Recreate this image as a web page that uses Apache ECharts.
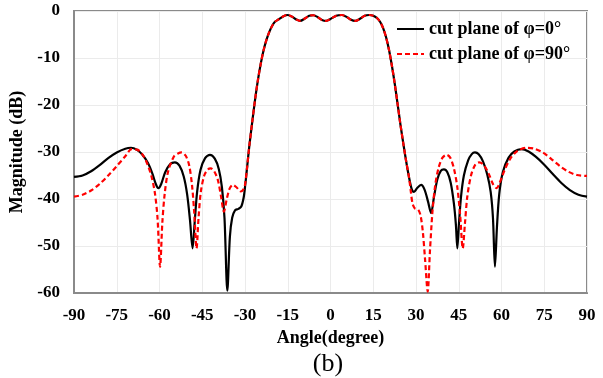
<!DOCTYPE html>
<html>
<head>
<meta charset="utf-8">
<script src="https://cdn.jsdelivr.net/npm/echarts@6/dist/echarts.min.js"></script>
<style>
  html, body { margin: 0; padding: 0; background: #fff; }
  #main { width: 603px; height: 378px; }
</style>
</head>
<body>
<div id="main"></div>
<script>
// 数据：角度 (degree) 与幅度 (dB)
var angle0 = [-90, -87, -84, -81, -78, -75, -72, -70, -68, -66, -64, -62.5, -61.3, -60.4, -59.4, -58, -56.3, -54.6, -53, -51.5,
  -50.3, -49.3, -48.4, -47.6, -46.8, -45.6, -44, -42.3, -40.6, -39.2, -38.1, -37.2, -36.2, -35.3, -34.5, -33.5, -32.3, -31.3, -30.5, -30,
  -29.3, -28.5, -27.5, -26.5, -25.5, -24.5, -23.5, -22.5, -21.5, -20.5, -19.5, -18, -16.5, -15, -13.5, -12, -10.7, -9, -7.5, -6,
  -4.5, -3, -1.5, 0, 2, 4, 5.5, 7, 8.7, 10.2, 12, 13.6, 15, 16.3, 17.5, 18.5, 19.5, 20.5, 21.5, 22.5,
  23.5, 24.5, 25.5, 26.5, 27.5, 28.5, 29.3, 30.5, 31.8, 33, 34.2, 35.3, 36.3, 37.5, 38.7, 39.8, 41, 42.2, 43.3, 44,
  44.5, 45.1, 45.8, 46.8, 48.3, 49.5, 50.7, 52, 53.5, 55, 56.2, 57, 57.7, 58.4, 59.2, 60.5, 62.5, 64.5, 67, 69.5,
  72, 75, 78, 81, 84, 87, 90];
var mag0 = [-35.3, -35.0, -34.1, -32.8, -31.3, -30.1, -29.3, -29.1, -29.5, -30.6, -32.4, -34.6, -36.8, -37.7, -36.8, -34.3, -32.6, -32.2, -32.9, -35.2,
  -39, -44.5, -50.5, -44.5, -38.5, -33.8, -31.3, -30.6, -31.4, -33.6, -37.5, -44, -59.5, -48, -44, -42.4, -42.1, -41.6, -39.8, -37.5,
  -33.5, -28.8, -23.8, -19, -14.8, -11.3, -8.4, -6.2, -4.5, -3.2, -2.3, -1.7, -1.1, -0.85, -1.2, -1.8, -2.1, -1.6, -1.0, -0.9,
  -1.3, -1.9, -2.1, -1.7, -1.0, -0.85, -1.2, -1.8, -2.1, -1.7, -1.0, -0.85, -1.0, -1.5, -2.4, -3.7, -5.6, -8.2, -11.5, -15.3,
  -19.6, -24, -28, -31.8, -35.2, -37.9, -38.5, -37.6, -37.0, -38, -40.5, -43.0, -39.6, -35.8, -34, -33.7, -34.3, -36.6, -41, -45.5,
  -50.5, -45, -39.5, -35, -31.8, -30.5, -30.1, -30.5, -32, -34.8, -38.5, -44, -54.4, -46, -39, -34.2, -31.2, -29.9, -29.4, -29.9,
  -31.0, -32.7, -34.7, -36.6, -38.1, -39.1, -39.5];

var angle90 = [-90, -87, -84, -81, -78, -75, -72, -69.8, -67.8, -66, -64.3, -62.8, -61.6, -60.7, -59.8, -59, -58.2, -57, -55, -53.5,
  -52.2, -50.8, -49.6, -48.6, -47.8, -47, -46.3, -45.5, -44.3, -43, -42, -40.8, -39.5, -38.4, -37.4, -36.4, -35.4, -34.3, -33, -31.5,
  -30.6, -30, -29.3, -28.5, -27.5, -26.5, -25.5, -24.5, -23.5, -22.5, -21.5, -20.5, -19.5, -18, -16.5, -15, -13.5, -12, -10.7, -9,
  -7.5, -6, -4.5, -3, -1.5, 0, 2, 4, 5.5, 7, 8.7, 10.2, 12, 13.6, 15, 16.3, 17.5, 18.5, 19.5, 20.5,
  21.5, 22.5, 23.5, 24.5, 25.5, 26.5, 27.5, 28.2, 28.8, 29.6, 30.8, 31.6, 32.4, 33.2, 34.1, 34.9, 35.8, 36.8, 38, 39.3,
  40.7, 42, 43.3, 44.5, 45.5, 46.4, 47.2, 48, 49.3, 50.8, 52.2, 53.8, 55.5, 57, 58.3, 59.4, 61, 63, 65.5, 68.8,
  71.5, 74.5, 77.5, 80.5, 83.5, 86.5, 90];
var mag90 = [-39.5, -39.1, -38.2, -36.8, -35.0, -33.0, -30.9, -29.4, -29.5, -30.5, -32.5, -35.2, -38.8, -44, -54.4, -45, -39, -34.2, -31, -30.3,
  -30.1, -30.8, -32.8, -37, -43, -50.5, -44, -38.5, -35, -33.7, -33.5, -34.1, -36, -39.5, -42.7, -40, -37.8, -37.0, -37.5, -38.4,
  -38.0, -37.0, -33.5, -28.8, -23.8, -19, -14.8, -11.3, -8.4, -6.2, -4.5, -3.2, -2.3, -1.7, -1.1, -0.85, -1.2, -1.8, -2.1, -1.6,
  -1.0, -0.9, -1.3, -1.9, -2.1, -1.7, -1.0, -0.85, -1.2, -1.8, -2.1, -1.7, -1.0, -0.85, -1.0, -1.5, -2.4, -3.7, -5.6, -8.2,
  -11.5, -15.3, -19.6, -24, -28, -31.8, -35.2, -38.5, -41, -42, -42.3, -43.5, -47, -53, -59.7, -51, -42.5, -36.8, -33.2, -31.2,
  -30.6, -31.2, -33.5, -37.5, -43.5, -50.5, -45, -39.5, -35, -32.7, -32.2, -32.8, -34.6, -36.8, -37.7, -36.5, -34, -31.5, -29.8, -29.1,
  -29.3, -30.1, -31.5, -33, -34.2, -34.9, -35.1];

var seriesNames = ['cut plane of φ=0°', 'cut plane of φ=90°'];
var xTicks = { min: -90, max: 90, interval: 15 };
var yTicks = { min: -60, max: 0, interval: 10 };

function zip(xs, ys) {
  var out = [];
  for (var i = 0; i < xs.length; i++) out.push([xs[i], ys[i]]);
  return out;
}

var chart = echarts.init(document.getElementById('main'));

var font = 'Liberation Serif, Times New Roman, serif';

var option = {
  backgroundColor: '#fff',
  animation: false,
  grid: {
    left: 74, right: 16, top: 11, bottom: 85,
    show: true,
    borderColor: '#8a8a8a',
    borderWidth: 2
  },
  legend: {
    orient: 'vertical',
    left: 396,
    top: 20,
    padding: 0,
    itemWidth: 27,
    itemHeight: 14,
    itemGap: 7,
    itemStyle: { opacity: 0 },
    textStyle: { fontFamily: font, fontWeight: 'bold', fontSize: 18, color: '#000' },
    data: seriesNames
  },
  xAxis: {
    type: 'value',
    min: xTicks.min, max: xTicks.max, interval: xTicks.interval,
    name: 'Angle(degree)',
    nameLocation: 'middle',
    nameGap: 32,
    nameTextStyle: { fontFamily: font, fontWeight: 'bold', fontSize: 18, color: '#000' },
    axisLine: { onZero: false, lineStyle: { color: '#8a8a8a', width: 2 } },
    axisTick: { show: false },
    axisLabel: { margin: 14, fontFamily: font, fontWeight: 'bold', fontSize: 17, color: '#000' },
    splitLine: { lineStyle: { color: '#ebebeb', width: 1 } }
  },
  yAxis: {
    type: 'value',
    min: yTicks.min, max: yTicks.max, interval: yTicks.interval,
    name: 'Magnitude (dB)',
    nameLocation: 'middle',
    nameGap: 42,
    nameTextStyle: { fontFamily: font, fontWeight: 'bold', fontSize: 18, color: '#000' },
    axisLine: { show: true, onZero: false, lineStyle: { color: '#8a8a8a', width: 2 } },
    axisTick: { show: false },
    axisLabel: { margin: 14, fontFamily: font, fontWeight: 'bold', fontSize: 17, color: '#000' },
    splitLine: { lineStyle: { color: '#ebebeb', width: 1 } }
  },
  graphic: [{
    type: 'text',
    x: 328,
    y: 364,
    style: { text: '(b)', fontFamily: font, fontSize: 26, fill: '#000', align: 'center', verticalAlign: 'middle' }
  }],
  series: [
    {
      name: seriesNames[0],
      type: 'line',
      symbol: 'none',
      smooth: 0.3,
      lineStyle: { color: '#000', width: 2.2, type: 'solid' },
      itemStyle: { color: '#000' },
      data: zip(angle0, mag0)
    },
    {
      name: seriesNames[1],
      type: 'line',
      symbol: 'none',
      smooth: 0.3,
      lineStyle: { color: '#ff0000', width: 2.2, type: [5, 3] },
      itemStyle: { color: '#ff0000' },
      data: zip(angle90, mag90)
    }
  ]
};

chart.setOption(option);
</script>
</body>
</html>
